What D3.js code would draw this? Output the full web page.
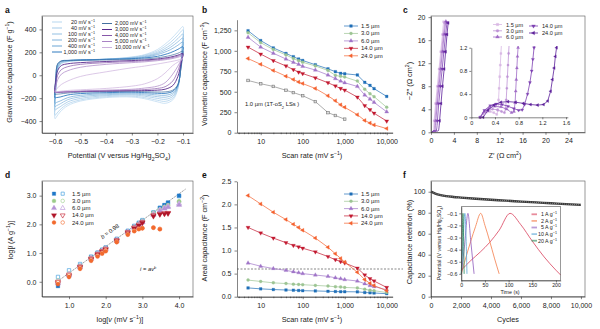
<!DOCTYPE html>
<html>
<head>
<meta charset="utf-8">
<script src="https://cdn.jsdelivr.net/npm/d3@7"></script>
<style>
  body { margin: 0; background: #fff; }
</style>
</head>
<body>
<script>
// ---------- panel a : cyclic voltammetry ----------
const cvRates = ["20", "40", "100", "200", "400", "1,000", "2,000", "3,000", "4,000", "5,000", "10,000"];
const cvColors = ["#b7d7ef", "#a5cbe9", "#93c0e3", "#80b3dc", "#6ba5d4", "#2f7bbf", "#44709f", "#5a2a8d", "#8757a9", "#a983c4", "#cdb1dd"];
const cvUpV = [-0.6, -0.597, -0.59, -0.575, -0.55, -0.5, -0.4, -0.3, -0.25, -0.2, -0.15, -0.12, -0.1];
const cvUp = [
  [-380, -150, 40, 100, 118, 128, 140, 160, 180, 225, 310, 380, 425],
  [-350, -130, 50, 105, 120, 130, 140, 157, 175, 212, 285, 350, 395],
  [-305, -110, 60, 110, 123, 131, 140, 153, 168, 200, 262, 320, 360],
  [-275, -90, 70, 115, 126, 133, 140, 150, 162, 190, 242, 292, 325],
  [-245, -70, 80, 120, 128, 134, 140, 148, 157, 180, 222, 262, 290],
  [-198, -40, 95, 125, 130, 134, 138, 145, 151, 165, 196, 226, 248],
  [-168, -20, 100, 124, 128, 130, 133, 138, 142, 152, 172, 192, 210],
  [-150, -50, 40, 85, 100, 110, 120, 128, 133, 142, 158, 175, 190],
  [-150, -80, 0, 50, 75, 95, 110, 120, 126, 135, 150, 166, 180],
  [-149, -100, -40, 10, 40, 70, 95, 110, 117, 127, 142, 157, 170],
  [-145, -130, -110, -80, -50, -10, 30, 65, 80, 98, 118, 132, 145]
];
const cvLowV = [-0.103, -0.108, -0.12, -0.14, -0.17, -0.2, -0.25, -0.3, -0.4, -0.5, -0.55, -0.58, -0.595];
const cvLow = [
  [280, 120, -120, -215, -245, -232, -205, -190, -195, -225, -265, -320, -365],
  [260, 110, -110, -200, -228, -218, -195, -182, -187, -215, -250, -300, -338],
  [235, 100, -100, -185, -210, -202, -183, -172, -178, -202, -232, -275, -295],
  [210, 90, -95, -170, -192, -187, -172, -164, -170, -188, -213, -250, -267],
  [190, 80, -90, -155, -175, -172, -162, -156, -161, -175, -195, -225, -238],
  [165, 70, -85, -140, -158, -157, -152, -148, -152, -160, -172, -190, -195],
  [140, 60, -80, -130, -145, -146, -143, -141, -143, -148, -155, -163, -166],
  [150, 100, -10, -90, -122, -130, -134, -135, -138, -142, -145, -148, -150],
  [160, 120, 40, -50, -100, -115, -125, -130, -135, -140, -144, -147, -150],
  [155, 130, 80, 10, -65, -95, -112, -122, -130, -137, -142, -146, -149],
  [140, 130, 115, 85, 20, -30, -75, -95, -115, -127, -133, -140, -145]
];
const cvTicksX = [-0.6, -0.5, -0.4, -0.3, -0.2, -0.1];
const cvTicksY = [-400, -200, 0, 200, 400];

// ---------- panels b, e : capacitance vs scan rate ----------
const thick = ["1.5", "3.0", "6.0", "14.0", "24.0"];
const thickColors = ["#1f6fb8", "#9cc493", "#a075c8", "#c2182f", "#f4612e"];
const scanRates = [5, 10, 20, 40, 60, 80, 100, 200, 400, 600, 800, 1000, 2000, 3000, 4000, 5000, 10000];
const volCap15 = [1245, 1125, 1035, 968, 928, 900, 882, 830, 780, 745, 725, 720, 705, 615, 578, 538, 443];
const volCap30 = [1220, 1100, 1015, 950, 905, 880, 860, 815, 760, 700, 688, 680, 630, 530, 475, 440, 310];
const volCap60 = [1165, 1045, 970, 900, 860, 835, 810, 765, 705, 660, 630, 610, 565, 460, 410, 370, 255];
const volCap140 = [1045, 960, 880, 815, 770, 740, 722, 670, 610, 570, 540, 520, 435, 330, 280, 238, 142];
const volCap240 = [905, 835, 760, 690, 650, 620, 600, 540, 450, 390, 340, 310, 220, 150, 118, 95, 50];
const lsRates = [5, 10, 20, 40, 60, 100, 200, 400, 600, 1000];
const volCapLS = [638, 598, 565, 518, 490, 452, 380, 245, 210, 165];
const arCap15 = [0.19, 0.17, 0.155, 0.145, 0.14, 0.135, 0.13, 0.125, 0.117, 0.112, 0.108, 0.108, 0.105, 0.09, 0.085, 0.08, 0.065];
const arCap30 = [0.36, 0.33, 0.30, 0.285, 0.27, 0.265, 0.26, 0.245, 0.23, 0.215, 0.21, 0.20, 0.19, 0.16, 0.14, 0.13, 0.09];
const arCap60 = [0.73, 0.66, 0.61, 0.57, 0.54, 0.52, 0.50, 0.47, 0.44, 0.41, 0.39, 0.37, 0.34, 0.28, 0.24, 0.22, 0.15];
const arCap140 = [1.50, 1.38, 1.27, 1.17, 1.11, 1.08, 1.05, 0.97, 0.87, 0.80, 0.76, 0.73, 0.62, 0.47, 0.39, 0.34, 0.20];
const arCap240 = [2.19, 2.01, 1.83, 1.67, 1.57, 1.50, 1.44, 1.27, 1.07, 0.93, 0.83, 0.75, 0.53, 0.37, 0.29, 0.24, 0.13];
const arLimit = 0.6;

// ---------- panel c : impedance ----------
const eisColors = ["#d8b8e4", "#bf94d6", "#a06bc6", "#7d40b2", "#5c1f9a"];
const eis15 = [[0.15, 0], [0.2, 0.06], [0.26, 0.09], [0.32, 0.1], [0.38, 0.08], [0.43, 0.05], [0.45, 0.12], [0.46, 0.3], [0.47, 0.5], [0.48, 0.7], [0.49, 0.9], [0.5, 1.1], [0.55, 2], [0.8, 5], [1.1, 8], [1.4, 11], [1.7, 14], [2.0, 17], [2.2, 19.2]];
const eis30 = [[0.15, 0], [0.2, 0.07], [0.28, 0.12], [0.36, 0.14], [0.44, 0.13], [0.51, 0.1], [0.56, 0.08], [0.58, 0.15], [0.59, 0.3], [0.6, 0.5], [0.61, 0.7], [0.62, 0.9], [0.63, 1.1], [0.68, 2], [0.95, 5], [1.25, 8], [1.55, 11], [1.85, 14], [2.15, 17], [2.4, 19]];
const eis60 = [[0.15, 0], [0.22, 0.1], [0.3, 0.16], [0.4, 0.19], [0.5, 0.18], [0.6, 0.14], [0.68, 0.08], [0.72, 0.1], [0.74, 0.25], [0.75, 0.45], [0.76, 0.65], [0.77, 0.85], [0.78, 1.05], [0.79, 1.2], [0.85, 2], [1.1, 5], [1.4, 8], [1.7, 11], [2.0, 14], [2.3, 17], [2.6, 19.3]];
const eis140 = [[0.15, 0], [0.22, 0.12], [0.32, 0.2], [0.42, 0.23], [0.52, 0.22], [0.62, 0.19], [0.72, 0.15], [0.8, 0.12], [0.86, 0.13], [0.9, 0.22], [0.95, 0.4], [0.99, 0.6], [1.02, 0.8], [1.04, 1.0], [1.06, 1.2], [1.12, 2], [1.35, 5], [1.65, 8], [1.95, 11], [2.25, 14], [2.55, 17], [2.8, 19.1]];
const eis240 = [[0.2, 0], [0.28, 0.12], [0.38, 0.21], [0.5, 0.26], [0.62, 0.27], [0.75, 0.26], [0.88, 0.24], [1.0, 0.22], [1.12, 0.21], [1.22, 0.22], [1.29, 0.28], [1.34, 0.45], [1.37, 0.65], [1.4, 0.85], [1.42, 1.05], [1.44, 1.2], [1.5, 2], [1.75, 5], [2.0, 8], [2.3, 11], [2.55, 14], [2.8, 17], [3.0, 19]];
const eisTicksX = [0, 4, 8, 12, 16, 20, 24];
const eisTicksY = [0, 4, 8, 12, 16, 20];
const eisInsetTicksX = [0, 0.4, 0.8, 1.2, 1.6];
const eisInsetTicksY = [0, 0.4, 0.8, 1.2];

// ---------- panel d : log i vs log v ----------
const dColors = ["#1f78c8", "#9ccc8a", "#b592d6", "#b0162a", "#f26a2e"];
const dOpenColors = ["#4aa3df", "#a8d49a", "#c0a0dc", "#c8303f", "#f47a44"];
const logV = [0.699, 1, 1.301, 1.602, 1.778, 1.903, 2, 2.301, 2.602, 2.778, 2.903, 3, 3.301, 3.477, 3.602, 3.699, 4];
const logI15 = [-0.15, 0.22, 0.55, 0.85, 1.0, 1.1, 1.18, 1.47, 1.75, 1.92, 2.03, 2.12, 2.4, 2.57, 2.67, 2.76, 3.0];
const logI15o = [0.17, 0.4, 0.62, 0.88, 1.02, 1.12, 1.2, 1.5, 1.78, 1.95, 2.06, 2.15, 2.42, 2.58, 2.67, 2.75, 2.98];
const logI30 = [-0.05, 0.22, 0.52, 0.82, 0.98, 1.08, 1.16, 1.45, 1.73, 1.9, 2.0, 2.1, 2.38, 2.5, 2.6, 2.67, 2.8];
const logI30o = [0.05, 0.3, 0.56, 0.85, 1.0, 1.1, 1.18, 1.47, 1.75, 1.92, 2.02, 2.12, 2.4, 2.52, 2.6, 2.66, 2.78];
const logI60 = [-0.05, 0.22, 0.5, 0.8, 0.96, 1.06, 1.14, 1.43, 1.72, 1.88, 1.98, 2.07, 2.33, 2.47, 2.55, 2.6, 2.68];
const logI60o = [0.0, 0.27, 0.54, 0.83, 0.98, 1.08, 1.16, 1.46, 1.74, 1.9, 2.0, 2.09, 2.36, 2.5, 2.58, 2.63, 2.72];
const logI140 = [-0.05, 0.2, 0.5, 0.78, 0.94, 1.04, 1.12, 1.42, 1.7, 1.86, 1.96, 2.05, 2.29, 2.35, 2.37, 2.38];
const logI140o = [0.0, 0.25, 0.53, 0.81, 0.97, 1.07, 1.15, 1.45, 1.73, 1.89, 1.99, 2.08, 2.32, 2.37, 2.39, 2.4];
const logI240 = [-0.08, 0.17, 0.45, 0.73, 0.88, 0.98, 1.06, 1.38, 1.64, 1.76, 1.83, 1.86, 1.88, 1.83];
const logI240o = [-0.02, 0.22, 0.48, 0.76, 0.91, 1.01, 1.1, 1.4, 1.66, 1.78, 1.85, 1.87, 1.89, 1.84];
const fitLine = [[0.67, 0.0], [4.18, 3.23]];

// ---------- panel f : cycling ----------
const cycles = [0, 250, 500, 1000, 1500, 2000, 3000, 4000, 5000, 6000, 7000, 8000, 9000, 10000];
const retention = [100, 98.5, 97.3, 95.8, 95, 94.4, 93.3, 92.3, 91.5, 90.6, 89.8, 89, 88.2, 87.5];
const gcdLabels = ["1", "2", "5", "10", "20"];
const gcdColors = ["#d9405c", "#f47c4a", "#8e5bbd", "#5aa6d6", "#2b8a5a"];
const gcdT1 = [0, 20, 40, 60, 80, 103, 125, 150, 175, 200, 210];
const gcdV1 = [-0.57, -0.49, -0.42, -0.34, -0.24, -0.1, -0.19, -0.33, -0.46, -0.57, -0.61];
const gcdT2 = [0, 10, 20, 30, 41, 50, 60, 70, 80];
const gcdV2 = [-0.6, -0.46, -0.33, -0.21, -0.1, -0.2, -0.33, -0.47, -0.6];
const gcdT5 = [0, 7, 14, 20, 27];
const gcdV5 = [-0.6, -0.36, -0.1, -0.33, -0.6];
const gcdT10 = [0, 4, 7.5, 12];
const gcdV10 = [-0.6, -0.32, -0.1, -0.6];
const gcdT20 = [0, 2, 3.5, 6];
const gcdV20 = [-0.6, -0.3, -0.1, -0.6];

// ---------- drawing helpers ----------
const FONT = "'Liberation Sans', Arial, Helvetica, sans-serif";
const svg = d3.select("body").append("svg")
  .attr("width", 600).attr("height", 329)
  .style("font-family", FONT);

function axis(gen, x, y, fs) {
  const g = svg.append("g").attr("transform", `translate(${x},${y})`).call(gen);
  g.attr("font-family", FONT).attr("font-size", fs);
  g.selectAll(".domain, .tick line").attr("stroke", "#333").attr("stroke-width", 0.6);
  g.selectAll(".tick text").attr("fill", "#222");
  return g;
}

function rich(x, y, parts, size, anchor, rot, parent) {
  const t = (parent || svg).append("text")
    .attr("x", x).attr("y", y)
    .attr("font-size", size)
    .attr("fill", "#222")
    .attr("text-anchor", anchor || "middle");
  if (rot) t.attr("transform", `rotate(${rot},${x},${y})`);
  [].concat(parts).forEach(p => {
    if (typeof p === "string") { t.append("tspan").text(p); return; }
    const s = t.append("tspan").text(p.t);
    if (p.it) s.attr("font-style", "italic");
    if (p.sup) s.attr("baseline-shift", "super").attr("font-size", size * 0.7);
    if (p.sub) s.attr("baseline-shift", "sub").attr("font-size", size * 0.7);
  });
  return t;
}

function frame(x0, y0, x1, y1, sw) {
  svg.append("rect").attr("x", x0).attr("y", y0)
    .attr("width", x1 - x0).attr("height", y1 - y0)
    .attr("fill", "none").attr("stroke", "#555").attr("stroke-width", sw || 0.6);
}

const sym = {
  square: { t: d3.symbolSquare, r: 0 },
  circle: { t: d3.symbolCircle, r: 0 },
  up: { t: d3.symbolTriangle, r: 0 },
  down: { t: d3.symbolTriangle, r: 180 },
  left: { t: d3.symbolTriangle, r: -90 }
};
function marker(g, x, y, kind, size, color, open) {
  g.append("path")
    .attr("d", d3.symbol().type(sym[kind].t).size(size)())
    .attr("transform", `translate(${x},${y}) rotate(${sym[kind].r})`)
    .attr("fill", open ? "#fff" : color)
    .attr("stroke", color)
    .attr("stroke-width", open ? 0.7 : 0.3);
}

const sup = t => ({ t, sup: true });
const sub = t => ({ t, sub: true });

// panel letters
[["a", 5, 13], ["b", 202, 13], ["c", 403, 13], ["d", 5, 178], ["e", 202, 178], ["f", 403, 178]]
  .forEach(([l, x, y]) => svg.append("text").attr("x", x).attr("y", y)
    .attr("font-size", 8.5).attr("font-weight", "bold").attr("fill", "#111").text(l));

// ================= panel a =================
{
  const x = d3.scaleLinear().domain([-0.651, -0.061]).range([42, 193]);
  const y = d3.scaleLinear().domain([-504, 517]).range([133, 16]);
  const line = d3.line().x(d => x(d[0])).y(d => y(d[1])).curve(d3.curveCatmullRomClosed.alpha(0.5));
  const g = svg.append("g");
  cvRates.forEach((r, i) => {
    const pts = cvUpV.map((v, j) => [v, cvUp[i][j]]).concat(cvLowV.map((v, j) => [v, cvLow[i][j]]));
    g.append("path").attr("d", line(pts)).attr("fill", "none")
      .attr("stroke", cvColors[i]).attr("stroke-width", i === 5 || i === 7 ? 0.9 : 0.7);
  });
  frame(42, 16, 193, 133);
  axis(d3.axisBottom(x).tickValues(cvTicksX).tickFormat(d3.format(".1f")).tickSize(2.5).tickSizeOuter(0).tickPadding(3.5), 0, 133, 7);
  axis(d3.axisLeft(y).tickValues(cvTicksY).tickSize(2.5).tickSizeOuter(0).tickPadding(3), 42, 0, 7);
  rich(12, 72, ["Gravimetric capacitance (F g", sup("−1"), ")"], 7.3, "middle", -90);
  rich(119, 158, ["Potential (V versus Hg/Hg", sub("2"), "SO", sub("4"), ")"], 7.3);
  cvRates.forEach((r, i) => {
    const col = i < 6 ? 0 : 1, row = col ? i - 6 : i;
    const ly = col ? 23.5 + row * 6 : 22 + row * 6;
    const lx = col ? 102 : 52;
    g.append("line").attr("x1", lx).attr("x2", lx + 10).attr("y1", ly).attr("y2", ly)
      .attr("stroke", cvColors[i]).attr("stroke-width", 1);
    rich(col ? 115 : 95, ly + 1.9, [r + " mV s", sup("−1")], 5.4, col ? "start" : "end");
  });
}

// ================= panels b and e =================
function scanPanel(y0, y1, dom, yTicks, yFmt, series, extra) {
  const x = d3.scaleLog().domain([Math.pow(10, 0.436), Math.pow(10, 4.14)]).range([237, 392.6]);
  const y = d3.scaleLinear().domain(dom).range([y0, y1]);
  const minor = [];
  [1, 10, 100, 1000].forEach(d => [2, 3, 4, 5, 6, 7, 8, 9].forEach(m => { if (m * d > 2.8 && m * d < 13000) minor.push(m * d); }));
  axis(d3.axisBottom(x).tickValues(minor).tickFormat("").tickSize(1.5).tickSizeOuter(0), 0, y0, 7);
  axis(d3.axisBottom(x).tickValues([10, 100, 1000, 10000]).tickFormat(d3.format(",")).tickSize(2.5).tickSizeOuter(0).tickPadding(3.5), 0, y0, 7);
  axis(d3.axisLeft(y).tickValues(yTicks).tickFormat(yFmt).tickSize(2.5).tickSizeOuter(0).tickPadding(3), 237, 0, 7);
  if (extra) extra(x, y);
  const kinds = ["square", "circle", "up", "down", "left"];
  const g = svg.append("g");
  const line = d3.line().x(d => x(d[0])).y(d => y(d[1]));
  series.forEach((vals, i) => {
    const pts = scanRates.map((r, j) => [r, vals[j]]);
    g.append("path").attr("d", line(pts)).attr("fill", "none").attr("stroke", thickColors[i]).attr("stroke-width", 0.7);
    pts.forEach(p => marker(g, x(p[0]), y(p[1]), kinds[i], 7, thickColors[i]));
  });
  return { x, y, g };
}

{
  const p = scanPanel(132.7, 19.7, [0, 1380], [0, 250, 500, 750, 1000, 1250], d3.format(","),
    [volCap15, volCap30, volCap60, volCap140, volCap240],
    (x, y) => {
      const pts = lsRates.map((r, j) => [r, volCapLS[j]]);
      const gg = svg.append("g");
      gg.append("path").attr("d", d3.line().x(d => x(d[0])).y(d => y(d[1]))(pts))
        .attr("fill", "none").attr("stroke", "#8a8a8a").attr("stroke-width", 0.7);
      pts.forEach(d => gg.append("rect").attr("x", x(d[0]) - 1.3).attr("y", y(d[1]) - 1.3)
        .attr("width", 2.6).attr("height", 2.6).attr("fill", "#ddd").attr("stroke", "#777").attr("stroke-width", 0.6));
    });
  rich(245, 106, ["1.0 µm (1T-oS", sub("2"), " LSs )"], 5.8, "start");
  rich(207, 74, ["Volumetric capacitance (F cm", sup("−3"), ")"], 7.3, "middle", -90);
  rich(312, 158, ["Scan rate (mV s", sup("−1"), ")"], 7.3);
  const kinds = ["square", "circle", "up", "down", "left"];
  thick.forEach((t, i) => {
    const ly = 26 + i * 7.45;
    p.g.append("line").attr("x1", 344).attr("x2", 358).attr("y1", ly).attr("y2", ly).attr("stroke", thickColors[i]).attr("stroke-width", 0.7);
    marker(p.g, 351, ly, kinds[i], 7, thickColors[i]);
    rich(361, ly + 2, t + " µm", 6, "start");
  });
}

{
  const p = scanPanel(296.7, 181.3, [0, 2.5], [0, 0.5, 1, 1.5, 2, 2.5], d3.format(".1f"),
    [arCap15, arCap30, arCap60, arCap140, arCap240],
    (x, y) => {
      svg.append("line").attr("x1", 237).attr("x2", 403).attr("y1", y(arLimit)).attr("y2", y(arLimit))
        .attr("stroke", "#555").attr("stroke-width", 0.7).attr("stroke-dasharray", "2,1.5");
    });
  rich(207, 238, ["Areal capacitance (F cm", sup("−2"), ")"], 7.3, "middle", -90);
  rich(312, 322, ["Scan rate (mV s", sup("−1"), ")"], 7.3);
  const kinds = ["square", "circle", "up", "down", "left"];
  thick.forEach((t, i) => {
    const ly = 194 + i * 7.3;
    p.g.append("line").attr("x1", 344).attr("x2", 358).attr("y1", ly).attr("y2", ly).attr("stroke", thickColors[i]).attr("stroke-width", 0.7);
    marker(p.g, 351, ly, kinds[i], 7, thickColors[i]);
    rich(361, ly + 2, t + " µm", 6, "start");
  });
}

// ================= panel c =================
{
  const x = d3.scaleLinear().domain([0, 26.9]).range([431, 585]);
  const y = d3.scaleLinear().domain([0, 20.2]).range([132.3, 16]);
  const sets = [eis15, eis30, eis60, eis140, eis240];
  const kinds = ["square", "circle", "up", "down", "left"];
  const g = svg.append("g");
  sets.forEach((s, i) => {
    g.append("path").attr("d", d3.line().x(d => x(d[0])).y(d => y(d[1]))(s))
      .attr("fill", "none").attr("stroke", eisColors[i]).attr("stroke-width", 0.8);
    s.filter(d => d[1] >= 1.5).forEach(d => marker(g, x(d[0]), y(d[1]), kinds[i], 4, eisColors[i]));
  });
  frame(431, 16, 585, 132.3);
  axis(d3.axisBottom(x).tickValues(eisTicksX).tickSize(2.5).tickSizeOuter(0).tickPadding(3.5), 0, 132.3, 7);
  axis(d3.axisLeft(y).tickValues(eisTicksY).tickSize(2.5).tickSizeOuter(0).tickPadding(3), 431, 0, 7);
  rich(412, 81, ["−Z″ (Ω cm", sup("2"), ")"], 7.3, "middle", -90);
  rich(505, 158, ["Z′ (Ω cm", sup("2"), ")"], 7.3);

  // inset
  const ix = d3.scaleLinear().domain([0, 1.63]).range([471.3, 567.8]);
  const iy = d3.scaleLinear().domain([0, 1.2]).range([117.3, 47.7]);
  svg.append("rect").attr("x", 471.3).attr("y", 44).attr("width", 97).attr("height", 73.3).attr("fill", "#fff");
  svg.append("clipPath").attr("id", "cin").append("rect").attr("x", 466).attr("y", 46).attr("width", 104).attr("height", 74);
  const ig = svg.append("g").attr("clip-path", "url(#cin)");
  sets.forEach((s, i) => {
    const pts = s.filter(d => d[1] <= 1.22);
    ig.append("path").attr("d", d3.line().x(d => ix(d[0])).y(d => iy(d[1]))(s))
      .attr("fill", "none").attr("stroke", eisColors[i]).attr("stroke-width", 0.8);
    pts.forEach(d => marker(ig, ix(d[0]), iy(d[1]), kinds[i], 4, eisColors[i]));
  });
  axis(d3.axisBottom(ix).tickValues(eisInsetTicksX).tickFormat(d3.format(".1f")).tickSize(2).tickSizeOuter(0).tickPadding(2), 0, 117.3, 5.5)
    .selectAll(".tick text").text(d => d === 0 ? "0" : d3.format(".1f")(d));
  axis(d3.axisLeft(iy).tickValues(eisInsetTicksY).tickSize(2).tickSizeOuter(0).tickPadding(2), 471.3, 0, 5.5)
    .selectAll(".tick text").text(d => d === 0 ? "0" : d3.format(".1f")(d));

  // legend
  const pos = [[493, 24.5], [493, 30.8], [493, 37], [529, 26], [529, 33]];
  thick.forEach((t, i) => {
    const [lx, ly] = pos[i];
    g.append("line").attr("x1", lx).attr("x2", lx + 9).attr("y1", ly).attr("y2", ly).attr("stroke", eisColors[i]).attr("stroke-width", 0.8);
    marker(svg, lx + 4.5, ly, kinds[i], 6, eisColors[i]);
    rich(lx + 13, ly + 2, t + " µm", 5.6, "start");
  });
}

// ================= panel d =================
{
  const x = d3.scaleLinear().domain([0.264, 4.38]).range([42, 193]);
  const y = d3.scaleLinear().domain([-0.52, 3.51]).range([296.7, 181]);
  frame(42, 181, 193, 296.7);
  axis(d3.axisBottom(x).tickValues([1, 2, 3, 4]).tickSize(2.5).tickSizeOuter(0).tickPadding(3.5), 0, 296.7, 7);
  axis(d3.axisLeft(y).tickValues([0, 1, 2, 3]).tickSize(2.5).tickSizeOuter(0).tickPadding(3), 42, 0, 7);
  const g = svg.append("g");
  g.append("path").attr("d", d3.line().x(d => x(d[0])).y(d => y(d[1]))(fitLine))
    .attr("stroke", "#444").attr("stroke-width", 0.6).attr("stroke-dasharray", "1.2,0.8").attr("fill", "none");
  const filled = [logI15, logI30, logI60, logI140, logI240];
  const open = [logI15o, logI30o, logI60o, logI140o, logI240o];
  const kinds = ["square", "circle", "up", "down", "circle"];
  filled.forEach((s, i) => {
    open[i].forEach((v, j) => marker(g, x(logV[j]), y(v), kinds[i], 11, dOpenColors[i], true));
    s.forEach((v, j) => marker(g, x(logV[j]), y(v), kinds[i], 13, dColors[i]));
  });
  rich(111, 233, [{ t: "b", it: true }, " = 0.98"], 5.8, "middle", -36);
  rich(140, 271, [{ t: "i", it: true }, " = ", { t: "av", it: true }, { t: "b", it: true, sup: true }], 5.8, "start");
  thick.forEach((t, i) => {
    const ly = 193.7 + i * 7.2;
    marker(g, 54, ly, kinds[i], 12, dColors[i]);
    marker(g, 62.7, ly, kinds[i], 10, dOpenColors[i], true);
    rich(72, ly + 2, t + " µm", 6, "start");
  });
  rich(13, 240, ["log[", { t: "i", it: true }, " (A g", sup("−1"), ")]"], 7.3, "middle", -90);
  rich(120, 322, ["log[", { t: "v", it: true }, " (mV s", sup("−1"), ")]"], 7.3);
}

// ================= panel f =================
{
  const x = d3.scaleLinear().domain([0, 10270]).range([431, 585]);
  const y = d3.scaleLinear().domain([0, 110.2]).range([296.7, 181]);
  const line = d3.line().x(d => x(d[0])).y(d => y(d[1])).curve(d3.curveMonotoneX);
  const pts = cycles.map((c, j) => [c, retention[j]]);
  svg.append("path").attr("d", line(pts)).attr("fill", "none").attr("stroke", "#3a3a3a").attr("stroke-width", 2.4);
  svg.append("path").attr("d", line(pts)).attr("fill", "none").attr("stroke", "#bbb").attr("stroke-width", 0.7).attr("stroke-dasharray", "0.8,1.2");
  frame(431, 181, 585, 296.7);
  axis(d3.axisBottom(x).tickValues([0, 2000, 4000, 6000, 8000, 10000]).tickFormat(d3.format(",")).tickSize(2.5).tickSizeOuter(0).tickPadding(3.5), 0, 296.7, 7);
  axis(d3.axisLeft(y).tickValues([0, 20, 40, 60, 80, 100]).tickSize(2.5).tickSizeOuter(0).tickPadding(3), 431, 0, 7);
  rich(412, 242, "Capacitance retention (%)", 7.3, "middle", -90);
  rich(508, 322, "Cycles", 7.3);

  // inset
  const ix = d3.scaleLinear().domain([0, 210]).range([461.3, 560.7]);
  const iy = d3.scaleLinear().domain([-0.655, -0.045]).range([280.5, 206.7]);
  svg.append("rect").attr("x", 461.3).attr("y", 206.7).attr("width", 99.4).attr("height", 73.8).attr("fill", "#fff");
  const ts = [gcdT1, gcdT2, gcdT5, gcdT10, gcdT20];
  const vs = [gcdV1, gcdV2, gcdV5, gcdV10, gcdV20];
  const il = d3.line().x(d => ix(d[0])).y(d => iy(d[1])).curve(d3.curveMonotoneX);
  ts.forEach((t, i) => {
    const p = t.map((tt, j) => [tt, vs[i][j]]);
    svg.append("path").attr("d", il(p)).attr("fill", "none").attr("stroke", gcdColors[i]).attr("stroke-width", 0.8);
  });
  frame(461.3, 206.7, 560.7, 280.5, 0.6);
  axis(d3.axisBottom(ix).tickValues([0, 50, 100, 150, 200]).tickSize(2).tickSizeOuter(0).tickPadding(1.2), 0, 280.5, 5.2);
  axis(d3.axisLeft(iy).tickValues([-0.1, -0.2, -0.3, -0.4, -0.5, -0.6]).tickFormat(d3.format(".1f")).tickSize(2).tickSizeOuter(0).tickPadding(2), 461.3, 0, 5.2);
  rich(441, 243, ["Potential (V versus Hg/Hg", sub("2"), "SO", sub("4"), ")"], 5.3, "middle", -90);
  rich(510, 294.3, "Time (s)", 5.3);
  gcdLabels.forEach((l, i) => {
    const ly = 214.3 + i * 6.6;
    svg.append("line").attr("x1", 531.5).attr("x2", 537).attr("y1", ly).attr("y2", ly)
      .attr("stroke", gcdColors[i]).attr("stroke-width", 1.8).attr("opacity", 0.6);
    rich(557, ly + 1.8, [l + " A g", sup("−1")], 5.3, "end");
  });
}
</script>
</body>
</html>
